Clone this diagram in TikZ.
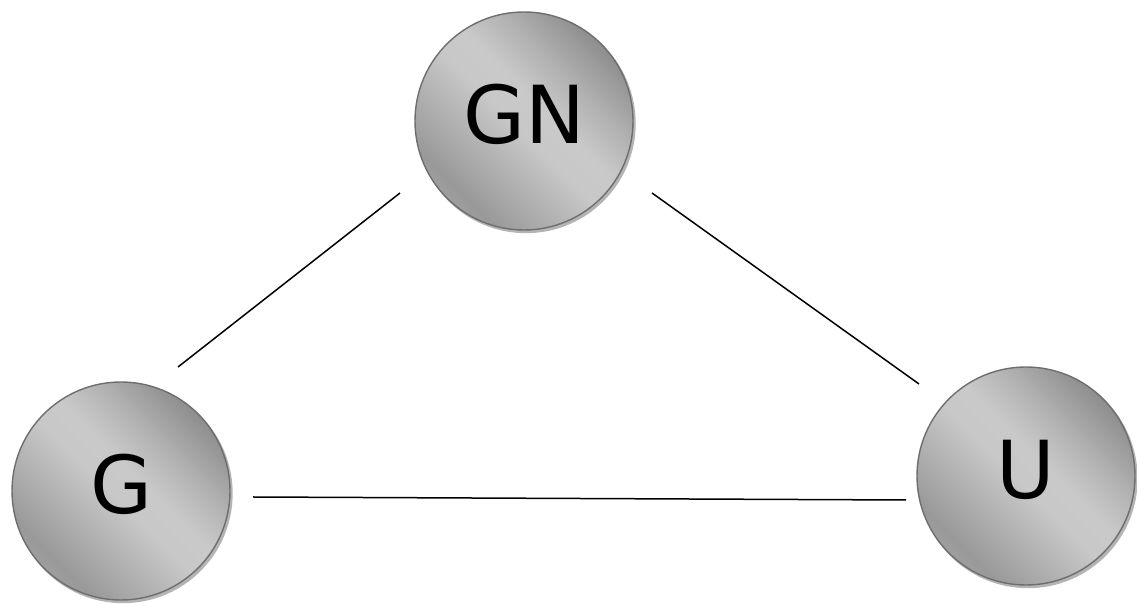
\documentclass[tikz,border=0pt]{standalone}
\usepackage{fontspec}
\setmainfont{DejaVu Sans}
\definecolor{mA}{HTML}{9E9E9E}
\definecolor{mB}{HTML}{999999}
\definecolor{mC}{HTML}{C8C8C8}
\definecolor{mD}{HTML}{C9C9C9}
\definecolor{mE}{HTML}{B4B4B4}
\definecolor{mF}{HTML}{8E8E8E}
\definecolor{rimgray}{HTML}{6E6E6E}
\definecolor{shadowgray}{HTML}{B4B4B4}
\pgfdeclareverticalshading{metal}{100bp}{color(0bp)=(mA); color(25bp)=(mA); color(28bp)=(mB); color(48bp)=(mC); color(55bp)=(mD); color(63bp)=(mE); color(75bp)=(mF); color(100bp)=(mF)}
\tikzset{
  ball/.style={circle, minimum size=218pt, inner sep=0pt, draw=rimgray, line width=1.4pt,
    shading=metal, shading angle=-45,
    preaction={fill=shadowgray, draw=shadowgray, line width=1.4pt, transform canvas={xshift=2pt,yshift=-2.5pt}},
    font=\fontsize{80}{96}\selectfont, text depth=14pt},
  link/.style={draw=black, line width=1.5pt}
}
\begin{document}
\begin{tikzpicture}[x=1pt,y=1pt]
\useasboundingbox (0,0) rectangle (1137,604);
\node[ball] (GN) at (524,483) {GN};
\node[ball] (G) at (121,113) {G};
\node[ball] (U) at (1026,128) {U};
\coordinate (a1) at (400,411);
\coordinate (a2) at (178,237);
\coordinate (b1) at (652,411);
\coordinate (b2) at (919,220);
\coordinate (c1) at (253,107);
\coordinate (c2) at (906,104);
\draw[link] (a1) -- (a2);
\draw[link] (b1) -- (b2);
\draw[link] (c1) -- (c2);
\end{tikzpicture}
\end{document}
